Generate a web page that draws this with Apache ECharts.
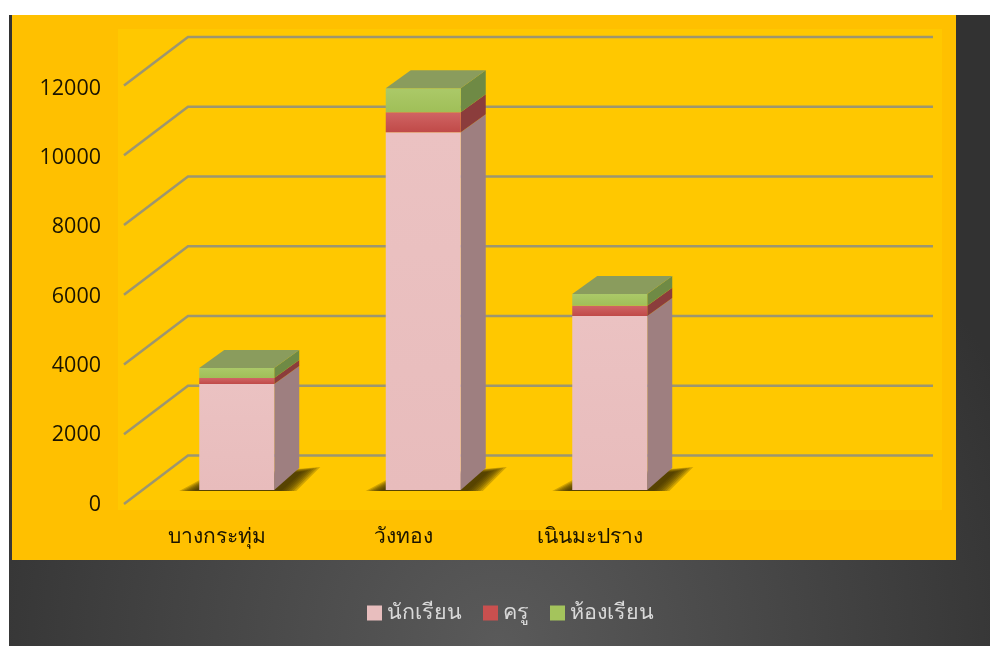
<!DOCTYPE html>
<html>
<head>
<meta charset="utf-8">
<style>
html, body { margin: 0; padding: 0; background: #fff; }
#chart { width: 990px; height: 646px; }
</style>
<script src="https://cdn.jsdelivr.net/npm/echarts@6/dist/echarts.min.js"></script>
</head>
<body>
<div id="chart"></div>
<script>
var categories = ['บางกระทุ่ม', 'วังทอง', 'เนินมะปราง', ''];
var yTicks = [0, 2000, 4000, 6000, 8000, 10000, 12000];
var students = [3040, 10260, 4990];
var teachers = [170, 570, 290];
var rooms = [290, 690, 340];

var seriesNames = ['นักเรียน', 'ครู', 'ห้องเรียน'];
var seriesValues = [students, teachers, rooms];
var legendColors = ['#E8BEBE', '#C9504F', '#A4C45C'];
var frontColors = [['#EBC2C2', '#E8BCBC'], ['#D06464', '#C04A48'], ['#ABC968', '#A0BF58']];
var sideColors = ['#9E7F80', '#8B3D3C', '#6F8A45'];
var topColor = '#8A9C5D';

var fontName = '"Open Sans", "Noto Sans", sans-serif';
var barWidth = 75;
var depthX = 25;
var depthY = 18;

// bar stacks: [category index, bottom, top]
function stack_data(k) {
    var rows = [];
    for (var i = 0; i < students.length; i++) {
        var bottom = 0;
        for (var s = 0; s < k; s++) {
            bottom += seriesValues[s][i];
        }
        rows.push([i, bottom, bottom + seriesValues[k][i]]);
    }
    return rows;
}

function render_box(k) {
    return function (params, api) {
        var a = api.coord([api.value(0), api.value(1)]);
        var b = api.coord([api.value(0), api.value(2)]);
        var left = a[0] - barWidth / 2;
        var right = a[0] + barWidth / 2;
        var botDepth = api.value(1) === 0 ? 22 : depthY;
        var children = [{
            type: 'polygon',
            shape: {points: [[right, a[1]], [right + depthX, a[1] - botDepth], [right + depthX, b[1] - depthY], [right, b[1]]]},
            style: {fill: sideColors[k]}
        }, {
            type: 'rect',
            shape: {x: left, y: b[1], width: barWidth, height: a[1] - b[1]},
            style: {fill: new echarts.graphic.LinearGradient(0, 0, 0, 1, [
                {offset: 0, color: frontColors[k][0]},
                {offset: 1, color: frontColors[k][1]}
            ])}
        }];
        if (k === seriesNames.length - 1) {
            children.push({
                type: 'polygon',
                shape: {points: [[left, b[1]], [left + depthX, b[1] - depthY], [right + depthX, b[1] - depthY], [right, b[1]]]},
                style: {fill: topColor}
            });
        }
        return {type: 'group', children: children};
    };
}

// soft floor shadow, nested see-through layers
function render_shadow(params, api) {
    var p = api.coord([api.value(0), 0]);
    var left = p[0] - barWidth / 2;
    var right = p[0] + barWidth / 2;
    var children = [];
    for (var s = 0; s < 7; s++) {
        children.push({
            type: 'polygon',
            shape: {points: [
                [left - 20 + s * 2.5, p[1] + 1],
                [left + 6 + s * 1.5, p[1] - 13 + s * 0.5],
                [right + 46 - s * 3, p[1] - 23 + s * 0.8],
                [right + 22 - s * 2.5, p[1] + 1]
            ]},
            style: {fill: 'rgba(60, 45, 0, 0.24)'}
        });
    }
    return {type: 'group', children: children};
}

// back wall line with the diagonal down to the axis
function render_wall(params, api) {
    var p = api.coord([0, api.value(0)]);
    var x = p[0] - api.size([1, 0])[0] / 2;
    return {
        type: 'polyline',
        shape: {points: [[x - 64, p[1] + 48.5], [x, p[1]], [x + 745, p[1]]]},
        style: {fill: null, stroke: '#9C9670', lineWidth: 2.5}
    };
}

var chartSeries = [{
    type: 'custom',
    xAxisIndex: 1,
    yAxisIndex: 1,
    data: yTicks.map(function (t) { return [t]; }),
    renderItem: render_wall,
    silent: true
}, {
    type: 'custom',
    xAxisIndex: 2,
    yAxisIndex: 2,
    data: students.map(function (v, i) { return [i]; }),
    renderItem: render_shadow,
    silent: true
}];

seriesNames.forEach(function (name, k) {
    chartSeries.push({
        name: name,
        type: 'custom',
        xAxisIndex: 2,
        yAxisIndex: 2,
        itemStyle: {color: legendColors[k]},
        data: stack_data(k),
        renderItem: render_box(k)
    });
});

function hidden_x(gridIndex) {
    return {type: 'category', gridIndex: gridIndex, data: categories, show: false};
}

function hidden_y(gridIndex) {
    return {type: 'value', gridIndex: gridIndex, min: 0, max: 12000, interval: 2000, show: false};
}

var option = {
    animation: false,
    backgroundColor: '#fff',
    textStyle: {fontFamily: fontName},
    graphic: [{
        type: 'rect',
        z: -10,
        shape: {x: 9, y: 15, width: 981, height: 631},
        style: {fill: new echarts.graphic.RadialGradient(0.5, 1, 0.9, [
            {offset: 0, color: '#5A5A5A'},
            {offset: 1, color: '#323232'}
        ])}
    }, {
        type: 'rect',
        z: -9,
        shape: {x: 12, y: 15, width: 944, height: 545},
        style: {fill: '#FFC000'}
    }, {
        type: 'rect',
        z: -8,
        shape: {x: 118, y: 29, width: 824, height: 481},
        style: {fill: '#FFC800'}
    }],
    legend: {
        data: seriesNames,
        left: 362,
        top: 597,
        icon: 'rect',
        itemWidth: 15,
        itemHeight: 15,
        itemGap: 21,
        textStyle: {color: '#D9D9D9', fontSize: 21.5, fontFamily: fontName}
    },
    grid: [
        {left: 124, width: 745, top: 88.5, height: 416},
        {left: 188, width: 745, top: 37, height: 418.5},
        {left: 143.5, width: 746, top: 71.5, height: 418.5}
    ],
    xAxis: [{
        type: 'category',
        gridIndex: 0,
        data: categories,
        axisLine: {show: false},
        axisTick: {show: false},
        axisLabel: {interval: 0, color: '#1A1400', fontSize: 21, fontFamily: fontName, margin: 22}
    }, hidden_x(1), hidden_x(2)],
    yAxis: [{
        type: 'value',
        gridIndex: 0,
        min: 0,
        max: 12000,
        interval: 2000,
        splitLine: {show: false},
        axisLine: {show: false},
        axisTick: {show: false},
        axisLabel: {
            color: '#1A1400',
            fontSize: 21.5,
            fontFamily: fontName,
            margin: 23,
            formatter: function (value) { return String(value); }
        }
    }, hidden_y(1), hidden_y(2)],
    series: chartSeries
};

var myChart = echarts.init(document.getElementById('chart'));
myChart.setOption(option);
</script>
</body>
</html>
